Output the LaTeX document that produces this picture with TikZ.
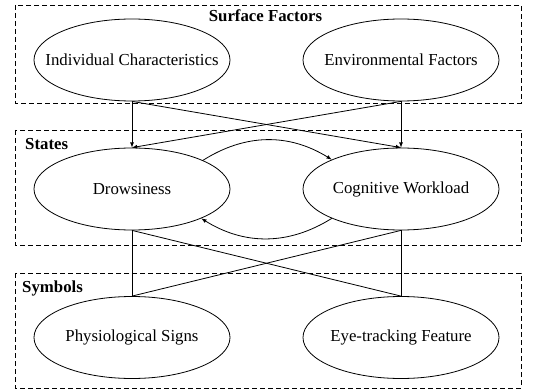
\documentclass[tikz,border=0pt]{standalone}
\usepackage{fontspec}
\setmainfont{Liberation Serif}
\usepackage{tikz}
\usetikzlibrary{positioning,shapes,arrows}

\begin{document}
\begin{tikzpicture}[x=1pt, y=-1pt,
		factor/.style={ellipse, draw, line width=0.8pt, minimum width=196pt, minimum height=82pt, inner xsep=-20pt, inner ysep=0pt, font=\fontsize{16.8}{20}\selectfont},
		group/.style={draw, line width=0.8pt, dash pattern=on 5pt off 3pt},
		grouplabel/.style={font=\fontsize{16.8}{20}\selectfont\bfseries, inner sep=0pt},
		link/.style={line width=0.8pt}]
				\useasboundingbox (0, 0) rectangle (545, 390);
				\draw[group] (15, 5) rectangle (521, 103);
				\draw[group] (15, 130) rectangle (521, 245);
				\draw[group] (15, 273) rectangle (521, 388);
				\node[grouplabel] (SF) at (265.5, 16) {Surface Factors};
				\node[grouplabel, anchor=west] (ST) at (25, 144) {States};
				\node[grouplabel, anchor=west] (SY) at (22, 288) {Symbols};
				\node[factor] (IC) at (132, 60) {Individual Characteristics};
				\node[factor] (EF) at (401, 60) {Environmental Factors};
				\node[factor] (D) at (132, 189) {Drowsiness};
				\node[factor] (CW) at (401, 189) {Cognitive Workload};
				\node[factor] (PS) at (132, 337.5) {Physiological Signs};
				\node[factor] (ET) at (401, 337.5) {Eye-tracking Feature};
				\draw[-latex, link] (IC) -- (D);
				\draw[-latex, link] (IC.south) -- (CW.north);
				\draw[-latex, link] (EF.south) -- (D.north);
				\draw[-latex, link] (EF) -- (CW);
				\draw[-latex, link] (D.22) to[bend left=32] (CW.157);
				\draw[-latex, link] (CW.203) to[bend left=32] (D.337);
				\draw[link] (D) -- (PS);
				\draw[link] (D.south) -- (ET.north);
				\draw[link] (CW.south) -- (PS.north);
				\draw[link] (CW) -- (ET);
			\end{tikzpicture}
\end{document}
